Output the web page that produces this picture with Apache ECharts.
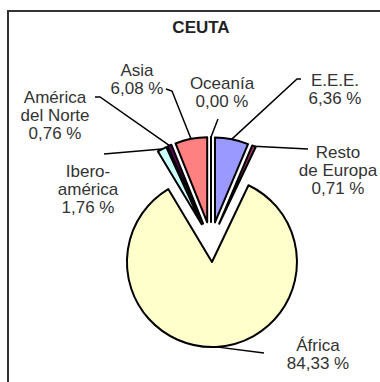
<!DOCTYPE html>
<html>
<head>
<meta charset="utf-8">
<script src="https://cdn.jsdelivr.net/npm/echarts@6/dist/echarts.min.js"></script>
<style>
    html, body { margin: 0; padding: 0; background: #fff; }
    #chart { width: 380px; height: 382px; }
</style>
</head>
<body>
<div id="chart"></div>
<script>

const title = 'CEUTA';

// clockwise from the top, in the order the slices are drawn
const regions = ['E.E.E.', 'Resto\nde Europa', 'África', 'Ibero-\namérica', 'América\ndel Norte', 'Asia', 'Oceanía'];
const shares = [6.36, 0.71, 84.33, 1.76, 0.76, 6.08, 0.00];
const colors = ['#9999ff', '#993366', '#ffffcc', '#ccffff', '#660066', '#ff8080', '#0066cc'];

// label block centres and where each leader line leaves its label
const labelSpots = [[335, 89], [338, 170], [318, 354], [88, 189], [55, 115], [137, 79], [222, 92]];
const labelTails = [
    [[297, 79], [301, 79]],
    [[308, 149]],
    [[264, 353]],
    [[104, 154]],
    [[100, 97], [95, 97]],
    [[172, 91], [166, 89]],
    [[218, 119]],
];

const pieCenter = [211, 242];
const pieRadius = 85;
const explode = 20;

const font = '"Liberation Sans", Arial, sans-serif';

const chart = echarts.init(document.getElementById('chart'), null, { renderer: 'svg' });

// point on the outer arc at the middle of each (exploded) slice
const total = shares.reduce((a, b) => a + b, 0);
let acc = 0;
const anchors = shares.map((v) => {
    const mid = (acc + v / 2) / total * 2 * Math.PI;
    acc += v;
    const s = Math.sin(mid);
    const c = Math.cos(mid);
    return [
        pieCenter[0] + (explode + pieRadius) * s,
        pieCenter[1] - (explode + pieRadius) * c,
    ];
});

const fmt = (v) => `${v.toFixed(2).replace('.', ',')} %`;

const labelGraphics = [];
regions.forEach((name, i) => {
    labelGraphics.push({
        type: 'polyline',
        silent: true,
        z: 10,
        shape: { points: [anchors[i]].concat(labelTails[i]) },
        style: { stroke: '#000', lineWidth: 1.5, fill: 'none' },
    });
    labelGraphics.push({
        type: 'text',
        silent: true,
        z: 10,
        x: labelSpots[i][0],
        y: labelSpots[i][1],
        style: {
            text: `${name}\n${fmt(shares[i])}`,
            font: `17px ${font}`,
            lineHeight: 18,
            fill: '#333',
            align: 'center',
            verticalAlign: 'middle',
        },
    });
});

chart.setOption({
    animation: false,
    title: {
        text: title,
        left: 196,
        top: 14,
        textAlign: 'center',
        textStyle: {
            fontFamily: font,
            fontSize: 17,
            fontWeight: 'bold',
            color: '#222',
        },
    },
    graphic: [
        {
            type: 'rect',
            silent: true,
            shape: { x: 8, y: 11, width: 400, height: 400 },
            style: { fill: 'none', stroke: '#333', lineWidth: 2 },
        },
    ].concat(labelGraphics),
    series: [
        {
            type: 'pie',
            center: pieCenter,
            radius: [0, pieRadius],
            startAngle: 90,
            clockwise: true,
            selectedMode: 'multiple',
            selectedOffset: explode,
            minShowLabelAngle: 0,
            itemStyle: { borderColor: '#000', borderWidth: 2 },
            emphasis: { disabled: true },
            select: { itemStyle: { borderColor: '#000', borderWidth: 2 } },
            label: { show: false },
            labelLine: { show: false },
            data: regions.map((name, i) => ({
                name: name,
                value: shares[i],
                selected: true,
                itemStyle: { color: colors[i] },
            })),
        },
    ],
});

</script>
</body>
</html>
